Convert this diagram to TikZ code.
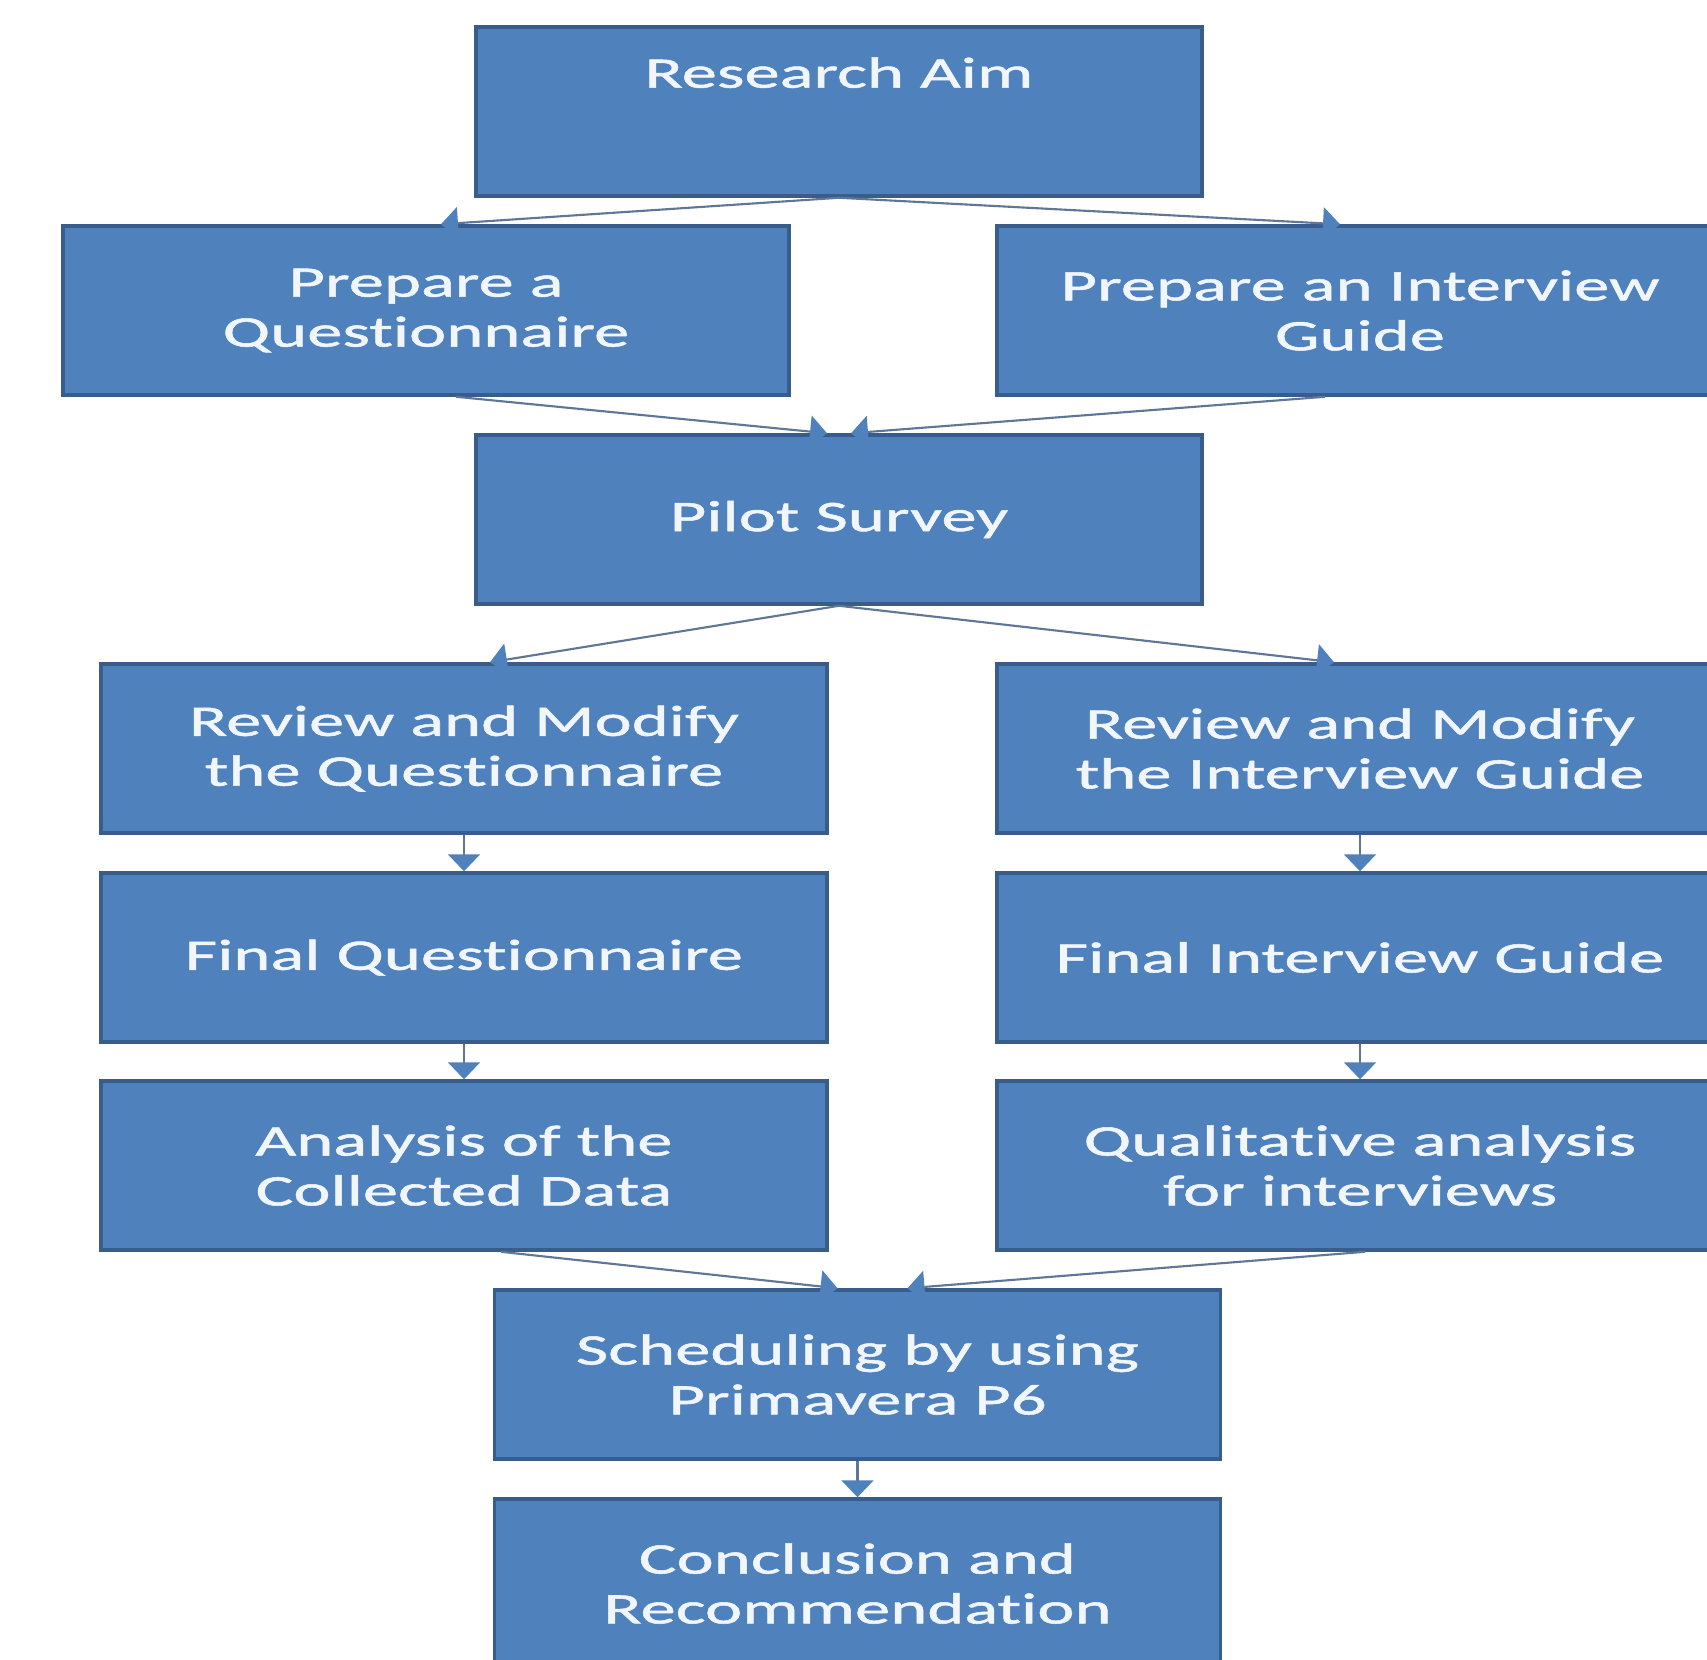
\documentclass[tikz,border=0pt]{standalone}
\usepackage{fontspec}
\setmainfont[FakeStretch=1.62, FakeBold=1.2, Ligatures={NoCommon}]{Carlito}
\usepackage{xcolor}
\usepackage{tikz}
\usetikzlibrary{arrows.meta}

\definecolor{boxblue}{RGB}{79,129,189}
\definecolor{boxedge}{RGB}{56,93,138}
\definecolor{linkcol}{RGB}{96,118,150}
\definecolor{boxtext}{RGB}{240,246,252}

\begin{document}
\begin{tikzpicture}[
	stage/.style={draw=boxedge, line width=1pt, fill=boxblue, text=boxtext,
		minimum width=7.26cm, minimum height=1.69cm, inner sep=0pt, align=center,
		font=\fontsize{12.4pt}{14.2pt}\selectfont},
	link/.style={draw=linkcol, line width=0.6pt,
		-{Triangle[width=0.32cm,length=0.17cm,color=boxblue]}}
	]
	\fill [white] (0,0) rectangle (17.07,-16.59);
	\clip (0,0) rectangle (17.07,-16.59);
	% boxes
	\node [stage] (aim) at (8.39,-1.115) {Research Aim\\[0.28cm]\mbox{}};
	\node [stage] (prepq) at (4.26,-3.105) {Prepare a\\Questionnaire};
	\node [stage] (prepi) at (13.6,-3.105) {Prepare an Interview\\Guide};
	\node [stage] (pilot) at (8.39,-5.195) {Pilot Survey};
	\node [stage] (revq) at (4.64,-7.485) {Review and Modify\\the Questionnaire};
	\node [stage] (revi) at (13.6,-7.485) {Review and Modify\\the Interview Guide};
	\node [stage] (finq) at (4.64,-9.575) {Final Questionnaire};
	\node [stage] (fini) at (13.6,-9.575) {Final Interview Guide};
	\node [stage] (anaq) at (4.64,-11.655) {Analysis of the\\Collected Data};
	\node [stage] (quali) at (13.6,-11.655) {Qualitative analysis\\for interviews};
	\node [stage] (sched) at (8.575,-13.745) {Scheduling by using\\Primavera P6};
	\node [stage] (concl) at (8.575,-15.835) {Conclusion and\\Recommendation};
	% connectors
	\draw [link] (aim.south) -- ([xshift=0.15cm]prepq.north);
	\draw [link] (aim.south) -- ([xshift=-0.2cm]prepi.north);
	\draw [link] ([xshift=0.3cm]prepq.south) -- ([xshift=-0.12cm]pilot.north);
	\draw [link] ([xshift=-0.35cm]prepi.south) -- ([xshift=0.12cm]pilot.north);
	\draw [link] (pilot.south) -- ([xshift=0.26cm]revq.north);
	\draw [link] (pilot.south) -- ([xshift=-0.26cm]revi.north);
	\draw [link] (revq) -- (finq);
	\draw [link] (revi) -- (fini);
	\draw [link] (finq) -- (anaq);
	\draw [link] (fini) -- (quali);
	\draw [link] ([xshift=0.37cm]anaq.south) -- ([xshift=-0.2cm]sched.north);
	\draw [link] ([xshift=0.05cm]quali.south) -- ([xshift=0.5cm]sched.north);
	\draw [link] (sched) -- (concl);
\end{tikzpicture}
\end{document}
